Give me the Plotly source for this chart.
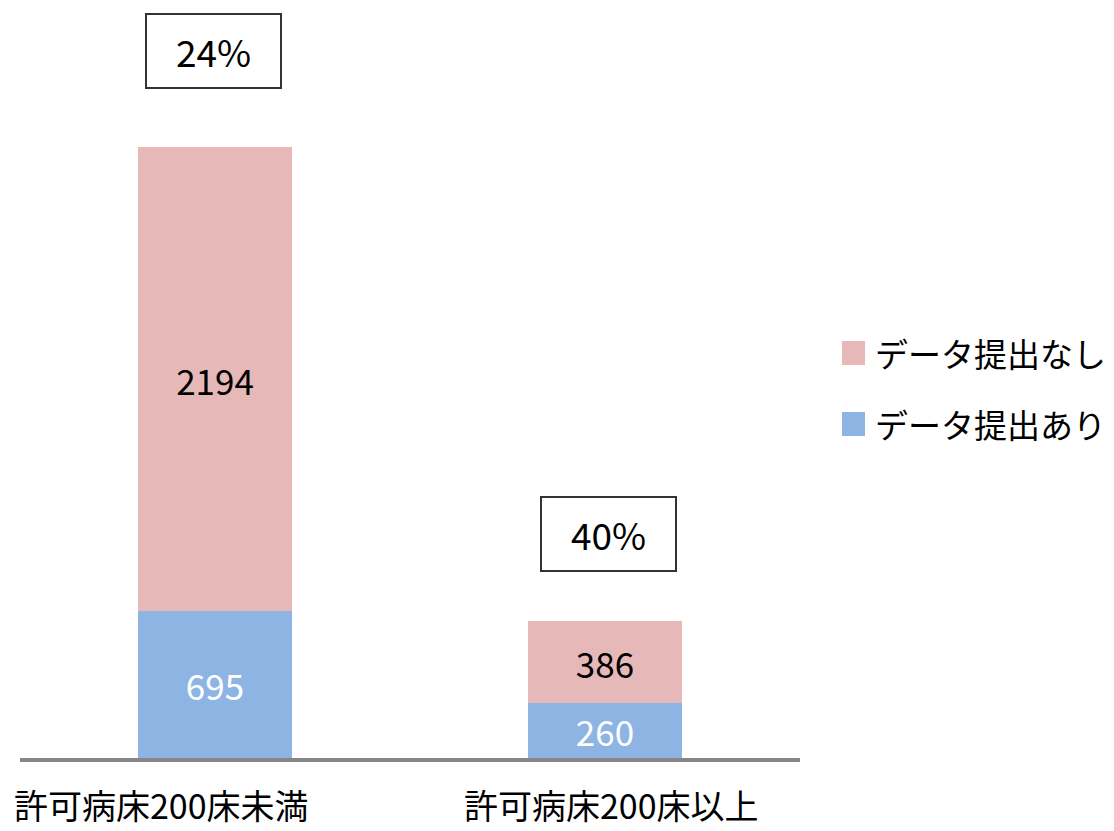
import plotly.graph_objects as go

categories = ["許可病床200床未満", "許可病床200床以上"]
submitted = [695, 260]        # データ提出あり
not_submitted = [2194, 386]   # データ提出なし

series_names = ["データ提出なし", "データ提出あり"]
pink = "#E6B9B8"
blue = "#8EB4E3"
font_family = "Noto Sans CJK JP, Noto Sans, sans-serif"

W, H = 1114, 831
ML, MR, MT, MB = 20, 314, 0, 73
plot_w = W - ML - MR
plot_h = H - MT - MB


def px_to_paper(px, py):
    """Convert page pixels to plot-area paper coordinates."""
    return (px - ML) / plot_w, (H - MB - py) / plot_h


x_idx = list(range(len(categories)))

fig = go.Figure()
fig.add_trace(go.Bar(
    x=x_idx, y=submitted, name=series_names[1],
    marker=dict(color=blue, line=dict(width=0)),
    text=[str(v) for v in submitted], textposition="inside",
    insidetextanchor="middle", constraintext="none",
    textfont=dict(color="white", size=35, family=font_family),
    width=0.397, showlegend=False,
))
fig.add_trace(go.Bar(
    x=x_idx, y=not_submitted, name=series_names[0],
    marker=dict(color=pink, line=dict(width=0)),
    text=[str(v) for v in not_submitted], textposition="inside",
    insidetextanchor="middle", constraintext="none",
    textfont=dict(color="black", size=35, family=font_family),
    width=0.397, showlegend=False,
))

annotations = []
# Share of submitting hospitals, boxed above each bar
box_shift = [96, 87]
box_xshift = [-2, 3]
for i, (a, b) in enumerate(zip(submitted, not_submitted)):
    total = a + b
    pct = round(100 * a / total)
    annotations.append(dict(
        x=i, y=total, xref="x", yref="y", text=f"{pct}%",
        showarrow=False, yshift=box_shift[i], xshift=box_xshift[i],
        width=131, height=70, borderpad=1, borderwidth=2, bordercolor="#333333",
        bgcolor="white", font=dict(size=37, color="black", family=font_family),
        xanchor="center", yanchor="middle",
    ))

# Category labels under the axis
label_shift = [-54, 6]
for i, c in enumerate(categories):
    annotations.append(dict(
        x=i, y=0, xref="x", yref="y", text=c, showarrow=False,
        yshift=-46, xshift=label_shift[i], xanchor="center", yanchor="middle",
        font=dict(size=34, color="black", family=font_family),
    ))

# Legend: swatches with labels, pink first
legend_items = [(series_names[0], pink, 353), (series_names[1], blue, 424)]
shapes = []
for name, color, yc in legend_items:
    x0, y0 = px_to_paper(842, yc + 12)
    x1, y1 = px_to_paper(865, yc - 12)
    shapes.append(dict(
        type="rect", xref="paper", yref="paper",
        x0=x0, x1=x1, y0=y0, y1=y1,
        fillcolor=color, line=dict(width=0),
    ))
    tx, ty = px_to_paper(873, yc)
    annotations.append(dict(
        x=tx, y=ty, xref="paper", yref="paper",
        text=name, showarrow=False, xanchor="left", yanchor="middle",
        font=dict(size=33, color="black", family=font_family),
    ))

fig.update_layout(
    barmode="stack",
    width=W, height=H,
    margin=dict(l=ML, r=MR, t=MT, b=MB),
    plot_bgcolor="white", paper_bgcolor="white",
    xaxis=dict(range=[-0.5, 1.5], showticklabels=False, ticks="",
               showline=True, linecolor="#868686", linewidth=4,
               showgrid=False, zeroline=False, fixedrange=True),
    yaxis=dict(range=[0, 3584], visible=False, showgrid=False,
               zeroline=False, fixedrange=True),
    annotations=annotations,
    shapes=shapes,
    showlegend=False,
)

fig.write_html("out.html")
